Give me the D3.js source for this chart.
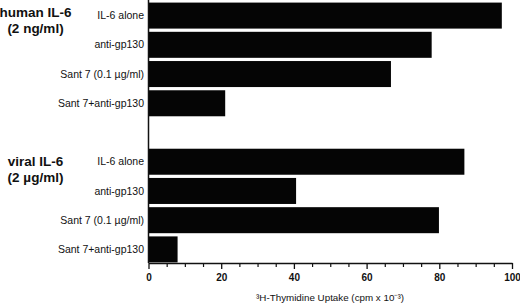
<!DOCTYPE html>
<html><head><meta charset="utf-8">
<script src="https://cdn.jsdelivr.net/npm/d3@7"></script>
<style>
html,body{margin:0;padding:0;background:#fff;}
svg{display:block;font-family:"Liberation Sans",Arial,sans-serif;}
</style></head>
<body>
<svg id="c" width="520" height="304"></svg>
<script>
const categories = ["IL-6 alone", "anti-gp130", "Sant 7 (0.1 µg/ml)", "Sant 7+anti-gp130"];
const groupNames = ["human IL-6", "viral IL-6"];
const groupDoses = ["(2 ng/ml)", "(2 µg/ml)"];
const humanValues = [97.2, 77.9, 66.7, 21.1];
const viralValues = [86.9, 40.6, 79.9, 8.0];
const majorTicks = [0, 20, 40, 60, 80, 100];
const minorTicks = [5, 10, 15, 25, 30, 35, 45, 50, 55, 65, 70, 75, 85, 90, 95];
const axisTitle = "³H-Thymidine Uptake (cpm x 10⁻³)";

const rows = [];
categories.forEach((c, i) => rows.push({key: "h" + i, label: c, value: humanValues[i]}));
const slots = rows.map(r => r.key).concat(["gap"]).concat(categories.map((c, i) => "v" + i));
categories.forEach((c, i) => rows.push({key: "v" + i, label: c, value: viralValues[i]}));

const svg = d3.select("#c");
const x = d3.scaleLinear().domain([0, 100]).range([148.5, 512]);
const y = d3.scaleBand().domain(slots).range([2, 263]).paddingInner(0.11).paddingOuter(0.02);
const axisY = 263;

// bars
svg.append("g").selectAll("rect").data(rows).join("rect")
  .attr("x", x(0)).attr("y", d => y(d.key))
  .attr("width", d => x(d.value) - x(0)).attr("height", y.bandwidth())
  .attr("fill", "#050505");

// category labels
svg.append("g").selectAll("text").data(rows).join("text")
  .attr("x", 144).attr("y", d => y(d.key) + y.bandwidth() / 2)
  .attr("dy", "0.35em").attr("text-anchor", "end")
  .attr("font-size", 10.5).attr("fill", "#111").text(d => d.label);

// group labels
const groupFirst = ["h0", "v0"];
const groupOff = [14.5, 17];
groupNames.forEach((g, i) => {
  const t = svg.append("text").attr("text-anchor", "middle").attr("font-weight", "bold")
    .attr("font-size", 13.5).attr("fill", "#111");
  t.append("tspan").attr("x", 35.5).attr("y", y(groupFirst[i]) + groupOff[i]).text(g);
  t.append("tspan").attr("x", 35.5).attr("y", y(groupFirst[i]) + groupOff[i] + 16).text(groupDoses[i]);
});

// minor ticks
svg.append("g").attr("transform", `translate(0,${axisY})`)
  .call(d3.axisBottom(x).tickValues(minorTicks).tickSize(4).tickFormat(""))
  .call(g => g.select(".domain").remove())
  .call(g => g.selectAll("line").attr("stroke", "#111").attr("stroke-width", 1.2));

// major axis
const xa = svg.append("g").attr("transform", `translate(0,${axisY})`)
  .call(d3.axisBottom(x).tickValues(majorTicks).tickSize(6).tickSizeOuter(0).tickPadding(5).tickFormat(d3.format("d")));
xa.select(".domain").attr("stroke", "#111").attr("stroke-width", 1.5);
xa.selectAll("line").attr("stroke", "#111").attr("stroke-width", 1.3);
xa.selectAll("text").attr("font-size", 10).attr("font-weight", "bold").attr("fill", "#111")
  .attr("font-family", "'Liberation Sans',Arial,sans-serif");

// left axis line
svg.append("line").attr("x1", x(0)).attr("x2", x(0)).attr("y1", 0).attr("y2", axisY)
  .attr("stroke", "#111").attr("stroke-width", 1.5);

// axis title
svg.append("text").attr("x", 330).attr("y", 301).attr("text-anchor", "middle")
  .attr("font-size", 9.8).attr("fill", "#111").text(axisTitle);
</script>
</body></html>
